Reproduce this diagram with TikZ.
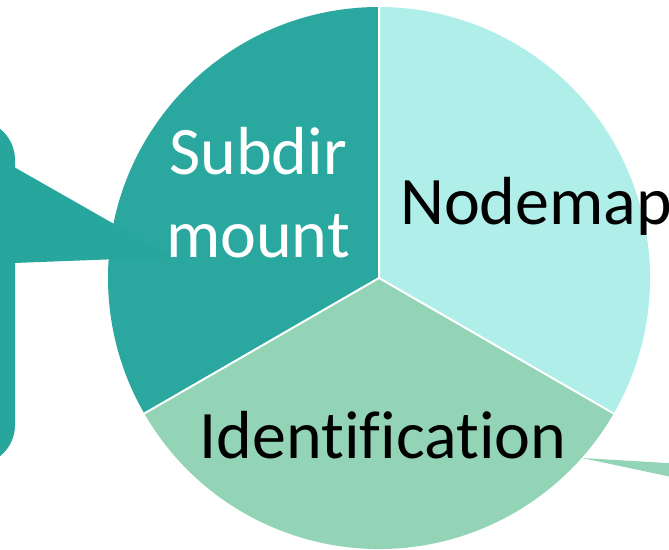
\documentclass[tikz,border=0pt]{standalone}
\usepackage{fontspec}
\setmainfont{Carlito}[Ligatures=NoCommon]
\definecolor{tealA}{RGB}{42,168,160}
\definecolor{tealB}{RGB}{38,166,156}
\definecolor{cyanA}{RGB}{176,238,234}
\definecolor{mintA}{RGB}{148,212,182}
\begin{document}
\begin{tikzpicture}[x=1pt,y=1pt,
  lbl/.style={font=\fontsize{68}{83}\selectfont,inner sep=0pt}]
\useasboundingbox (0,0) rectangle (669,549);
\begin{scope}
\clip (0,0) rectangle (669,549);
\coordinate (c) at (379,271);
% pie sectors
\fill[tealA] (c) -- ++(90:271) arc[start angle=90,end angle=210,radius=271] -- cycle;
\fill[cyanA] (c) -- ++(-30:271) arc[start angle=-30,end angle=90,radius=271] -- cycle;
\fill[mintA] (c) -- ++(210:271) arc[start angle=210,end angle=330,radius=271] -- cycle;
\draw[white,line width=2pt] (c) -- ++(90:271) (c) -- ++(210:271) (c) -- ++(330:271);
% left callout
\fill[tealB,rounded corners=40] (-80,84) rectangle (15,429);
\coordinate (lt) at (172,292);
\fill[tealB] (14,382) -- (lt) -- (14,286) -- cycle;
% right callout pointer
\coordinate (rt) at (582,91);
\fill[mintA] (rt) -- (700,84) -- (700,66) -- cycle;
% labels
\node[lbl,white,align=center,anchor=base] (sub) at (258,291) {Subdir\\mount};
\node[lbl,anchor=base west] (nod) at (400,324) {Nodemap};
\node[lbl,anchor=base] (ide) at (383,91) {Identification};
\end{scope}
\end{tikzpicture}
\end{document}
